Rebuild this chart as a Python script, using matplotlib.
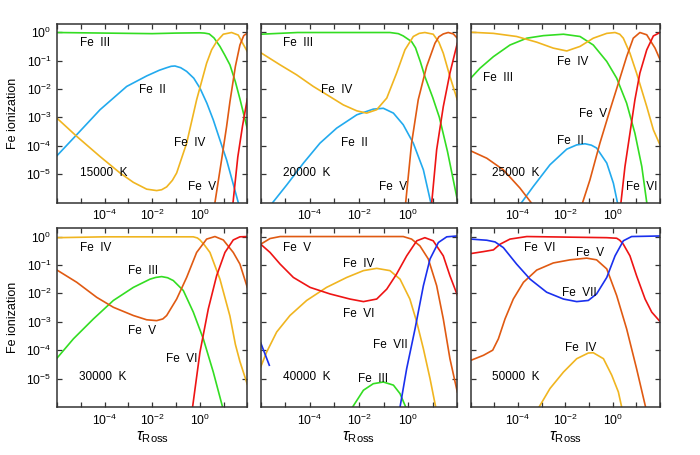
"""Fe ionization fractions vs Rosseland optical depth for six model temperatures."""

import numpy as np
import matplotlib as mpl
import matplotlib.pyplot as plt

nan = np.nan

# curves as (log10 tau_Ross, log10 fraction)
# ---- 15000 K
T15_FE2 = [(-6.0, -4.35), (-5.17, -3.61), (-4.19, -2.73), (-3.07, -1.91), (-2.23, -1.54),
           (-1.7, -1.34), (-1.39, -1.25), (-1.2, -1.2), (-1.04, -1.19), (-0.8, -1.25),
           (-0.55, -1.38), (-0.25, -1.62), (0.01, -1.97), (0.3, -2.5), (0.57, -3.09),
           (0.85, -3.8), (1.13, -4.5), (1.62, -6.0)]
T15_FE3 = [(-6.0, -0.01), (-4.0, -0.03), (-2.0, -0.05), (-1.0, -0.03), (0.0, -0.02),
           (0.2, -0.03), (0.4, -0.06), (0.6, -0.2), (0.85, -0.5), (1.05, -0.8),
           (1.27, -1.15), (1.5, -1.75), (1.69, -2.35), (2.0, -3.4)]
T15_FE4 = [(-6.0, -3.03), (-5.17, -3.67), (-4.19, -4.38), (-3.35, -4.96), (-2.79, -5.29),
           (-2.23, -5.53), (-1.81, -5.58), (-1.6, -5.55), (-1.39, -5.45), (-1.15, -5.22),
           (-0.97, -4.96), (-0.55, -3.91), (-0.13, -2.38), (0.29, -1.09), (0.5, -0.62),
           (0.71, -0.33), (0.99, -0.07), (1.34, -0.01), (1.62, -0.1), (1.8, -0.38),
           (2.0, -0.68)]
T15_FE5 = [(0.64, -6.0), (0.9, -4.6), (1.13, -3.32), (1.27, -2.45), (1.5, -1.2),
           (1.69, -0.45), (1.85, -0.12), (2.0, -0.03)]
T15_FE6 = [(1.4, -6.0), (1.6, -4.4), (1.8, -3.3), (2.0, -2.35)]

# ---- 20000 K
T20_FE2 = [(-5.51, -6.0), (-4.94, -5.38), (-4.26, -4.61), (-3.59, -3.91), (-2.91, -3.38),
           (-2.09, -2.91), (-1.42, -2.71), (-1.01, -2.68), (-0.6, -2.85), (-0.2, -3.26),
           (0.21, -3.91), (0.62, -4.85), (0.92, -6.0)]
T20_FE3 = [(-6.0, -0.07), (-4.5, -0.01), (-2.0, -0.01), (-0.74, -0.01), (-0.4, -0.05),
           (-0.2, -0.13), (0.14, -0.33), (0.3, -0.55), (0.5, -1.05), (0.68, -1.56),
           (1.0, -2.3), (1.27, -3.0), (1.6, -4.2), (2.0, -5.9)]
T20_FE4 = [(-6.0, -0.72), (-5.21, -1.15), (-4.54, -1.5), (-3.86, -1.91), (-3.18, -2.27),
           (-2.64, -2.56), (-2.09, -2.77), (-1.69, -2.85), (-1.28, -2.73), (-0.87, -2.32),
           (-0.47, -1.44), (-0.13, -0.62), (0.21, -0.15), (0.45, -0.04), (0.68, -0.01),
           (1.02, -0.07), (1.25, -0.35), (1.43, -0.74), (1.7, -1.56), (2.0, -2.38)]
T20_FE5 = [(-0.1, -6.0), (0.14, -3.91), (0.41, -2.38), (0.75, -1.21), (1.09, -0.39),
           (1.25, -0.16), (1.43, -0.06), (1.63, -0.01), (1.84, -0.06), (2.0, -0.21)]
T20_FE6 = [(0.96, -6.0), (1.16, -4.14), (1.43, -2.62), (1.7, -1.44), (2.0, -0.39)]

# ---- 25000 K
T25_FE2 = [(-3.85, -6.0), (-3.35, -5.43), (-2.65, -4.67), (-1.94, -4.12), (-1.52, -3.97),
           (-1.17, -3.93), (-0.9, -3.98), (-0.68, -4.08), (-0.25, -4.61), (0.03, -5.32),
           (0.2, -6.0)]
T25_FE3 = [(-6.0, -1.62), (-5.61, -1.27), (-5.04, -0.86), (-4.34, -0.45), (-3.63, -0.21),
           (-2.93, -0.12), (-2.08, -0.07), (-1.38, -0.15), (-0.82, -0.45), (-0.25, -1.03),
           (0.17, -1.62), (0.59, -2.5), (0.94, -3.56), (1.23, -4.73), (1.44, -6.0)]
T25_FE4 = [(-6.0, 0.0), (-5.04, -0.04), (-4.06, -0.15), (-3.21, -0.35), (-2.51, -0.56),
           (-1.94, -0.66), (-1.38, -0.5), (-0.82, -0.21), (-0.25, -0.04), (0.1, -0.01),
           (0.3, -0.07), (0.45, -0.21), (0.73, -0.74), (1.01, -1.44), (1.44, -2.62),
           (1.72, -3.44), (2.0, -3.97)]
T25_FE5 = [(-6.0, -4.18), (-5.32, -4.44), (-4.62, -4.85), (-3.92, -5.49), (-3.45, -6.0),
           (nan, nan),
           (-1.27, -6.0), (-0.96, -5.2), (-0.54, -3.91), (-0.11, -2.73), (0.24, -1.8),
           (0.59, -0.86), (0.87, -0.21), (1.15, -0.01), (1.44, -0.09), (1.79, -0.56),
           (2.0, -0.96)]
T25_FE6 = [(0.35, -6.0), (0.52, -4.73), (0.73, -3.56), (0.94, -2.38), (1.15, -1.44),
           (1.44, -0.62), (1.72, -0.13), (2.0, -0.01)]

# ---- 30000 K
T30_FE3 = [(-6.0, -4.28), (-5.31, -3.6), (-4.47, -2.9), (-3.63, -2.25), (-2.79, -1.79),
           (-2.09, -1.5), (-1.85, -1.44), (-1.6, -1.41), (-1.35, -1.45), (-1.11, -1.55),
           (-0.69, -1.9), (-0.27, -2.66), (0.15, -3.6), (0.57, -4.77), (0.96, -6.0)]
T30_FE4 = [(-6.0, -0.04), (-4.0, -0.01), (-2.0, -0.01), (-0.27, -0.01), (-0.1, -0.05),
           (0.01, -0.12), (0.2, -0.3), (0.43, -0.56), (0.85, -1.5), (1.27, -2.8),
           (1.5, -3.8), (1.69, -4.4), (2.0, -5.2)]
T30_FE5 = [(-6.0, -1.18), (-5.17, -1.61), (-4.33, -2.14), (-3.63, -2.49), (-2.79, -2.78),
           (-2.23, -2.93), (-1.81, -2.96), (-1.55, -2.9), (-1.39, -2.78), (-0.97, -2.2),
           (-0.55, -1.44), (-0.13, -0.56), (0.29, -0.09), (0.64, 0.0), (0.99, -0.12),
           (1.41, -0.56), (1.69, -0.97), (2.0, -1.79)]
T30_FE6 = [(-0.3, -6.0), (0.01, -4.07), (0.36, -2.55), (0.71, -1.38), (1.06, -0.56),
           (1.41, -0.12), (1.69, -0.01), (2.0, 0.0)]

# ---- 40000 K
T40_FE3 = [(-2.26, -6.0), (-1.82, -5.41), (-1.42, -5.18), (-1.01, -5.12), (-0.6, -5.23),
           (-0.33, -5.53), (-0.1, -6.0)]
T40_FE4 = [(-6.0, -4.59), (-5.76, -4.07), (-5.35, -3.36), (-4.81, -2.78), (-4.13, -2.25),
           (-3.32, -1.79), (-2.5, -1.44), (-1.82, -1.2), (-1.28, -1.12), (-0.74, -1.2),
           (-0.33, -1.5), (0.07, -2.2), (0.35, -3.01), (0.62, -3.95), (0.89, -5.0),
           (1.12, -6.0)]
T40_FE5 = [(-6.0, -0.27), (-5.62, -0.07), (-5.21, 0.0), (-2.0, 0.0), (-0.2, 0.0),
           (0.14, -0.09), (0.48, -0.33), (0.82, -0.79), (1.16, -1.73), (1.43, -2.9),
           (1.7, -4.3), (2.0, -5.47)]
T40_FE6 = [(-6.0, -0.27), (-5.62, -0.56), (-5.21, -0.97), (-4.67, -1.44), (-3.99, -1.79),
           (-3.18, -2.02), (-2.37, -2.2), (-1.82, -2.29), (-1.28, -2.2), (-0.87, -1.85),
           (-0.47, -1.32), (-0.06, -0.68), (0.35, -0.15), (0.68, -0.04), (1.02, -0.15),
           (1.43, -0.68), (1.7, -1.38), (2.0, -2.06)]
T40_FE7 = [(-6.0, -3.74), (-5.65, -4.53),
           (nan, nan),
           (-0.33, -6.0), (-0.06, -4.65), (0.28, -3.25), (0.62, -1.73), (0.89, -0.79),
           (1.23, -0.21), (1.57, -0.01), (2.0, 0.02)]

# ---- 50000 K
T50_FE4 = [(-3.11, -6.0), (-2.65, -5.35), (-2.08, -4.77), (-1.52, -4.3), (-1.03, -4.1),
           (-0.82, -4.09), (-0.39, -4.3), (-0.04, -4.88), (0.24, -5.47), (0.38, -6.0)]
T50_FE5 = [(-6.0, -4.36), (-5.46, -4.18), (-5.07, -4.0), (-4.83, -3.6), (-4.55, -2.9),
           (-4.2, -2.2), (-3.77, -1.61), (-3.21, -1.18), (-2.51, -0.93), (-1.8, -0.82),
           (-1.1, -0.76), (-0.68, -0.82), (-0.25, -1.14), (0.17, -2.08), (0.59, -3.25),
           (1.01, -4.65), (1.39, -6.0)]
T50_FE6 = [(-6.0, -0.6), (-5.46, -0.53), (-5.04, -0.47), (-4.76, -0.27), (-4.34, -0.09),
           (-3.63, 0.0), (-0.25, -0.04), (0.17, -0.06), (0.3, -0.13), (0.45, -0.27),
           (0.73, -0.68), (1.01, -1.38), (1.37, -2.2), (1.65, -2.66), (2.0, -2.99)]
T50_FE7 = [(-6.0, -0.09), (-5.32, -0.13), (-4.97, -0.19), (-4.62, -0.39), (-4.06, -0.97),
           (-3.49, -1.5), (-2.79, -1.96), (-2.08, -2.2), (-1.52, -2.29), (-1.03, -2.25),
           (-0.68, -2.02), (-0.25, -1.44), (0.1, -0.68), (0.45, -0.15), (0.8, 0.0),
           (2.0, 0.02)]

ION_COLORS = {
    "Fe II": "#22aaee",
    "Fe III": "#33dd22",
    "Fe IV": "#f0b520",
    "Fe V": "#e05a12",
    "Fe VI": "#ee1414",
    "Fe VII": "#1a30ee",
}

PANELS = [
    ({"Fe II": T15_FE2, "Fe III": T15_FE3, "Fe IV": T15_FE4, "Fe V": T15_FE5, "Fe VI": T15_FE6},
     [("Fe  III", 0.121, 0.892), ("Fe  II", 0.432, 0.630), ("Fe  IV", 0.617, 0.336),
      ("Fe  V", 0.691, 0.088), ("15000  K", 0.121, 0.168)]),
    ({"Fe II": T20_FE2, "Fe III": T20_FE3, "Fe IV": T20_FE4, "Fe V": T20_FE5, "Fe VI": T20_FE6},
     [("Fe  III", 0.115, 0.892), ("Fe  IV", 0.305, 0.630), ("Fe  II", 0.407, 0.331),
      ("Fe  V", 0.602, 0.089), ("20000  K", 0.112, 0.163)]),
    ({"Fe II": T25_FE2, "Fe III": T25_FE3, "Fe IV": T25_FE4, "Fe V": T25_FE5, "Fe VI": T25_FE6},
     [("Fe  III", 0.067, 0.699), ("Fe  IV", 0.458, 0.789), ("Fe  V", 0.572, 0.494),
      ("Fe  II", 0.458, 0.346), ("Fe  VI", 0.819, 0.089), ("25000  K", 0.111, 0.163)]),
    ({"Fe III": T30_FE3, "Fe IV": T30_FE4, "Fe V": T30_FE5, "Fe VI": T30_FE6},
     [("Fe  IV", 0.121, 0.888), ("Fe  III", 0.372, 0.763), ("Fe  V", 0.372, 0.425),
      ("Fe  VI", 0.574, 0.267), ("30000  K", 0.116, 0.166)]),
    ({"Fe III": T40_FE3, "Fe IV": T40_FE4, "Fe V": T40_FE5, "Fe VI": T40_FE6, "Fe VII": T40_FE7},
     [("Fe  V", 0.115, 0.888), ("Fe  IV", 0.420, 0.799), ("Fe  VI", 0.417, 0.519),
      ("Fe  VII", 0.573, 0.345), ("Fe  III", 0.497, 0.155), ("40000  K", 0.112, 0.166)]),
    ({"Fe IV": T50_FE4, "Fe V": T50_FE5, "Fe VI": T50_FE6, "Fe VII": T50_FE7},
     [("Fe  VI", 0.282, 0.888), ("Fe  V", 0.556, 0.860), ("Fe  VII", 0.481, 0.640),
      ("Fe  IV", 0.498, 0.332), ("50000  K", 0.111, 0.166)]),
]

mpl.rcParams.update({
    "font.family": "Liberation Sans",
    "mathtext.fontset": "custom",
    "mathtext.rm": "Liberation Sans",
    "mathtext.it": "Liberation Sans:italic",
    "mathtext.sf": "Liberation Sans",
    "font.size": 8.5,
    "xtick.labelsize": 8.7,
    "ytick.labelsize": 8.7,
})

W, H = 700, 455
fig = plt.figure(figsize=(7.0, 4.55), dpi=100)

# axes boxes in pixels: (left, right) per column, (top, bottom) per row
col_px = [(57, 247.3), (260.7, 457.3), (470.7, 660)]
row_px = [(24, 202.5), (228.3, 407)]

for idx, (curves, labels) in enumerate(PANELS):
    r, c = divmod(idx, 3)
    x0, x1 = col_px[c]
    y0, y1 = row_px[r]
    ax = fig.add_axes([x0 / W, 1 - y1 / H, (x1 - x0) / W, (y1 - y0) / H])
    for ion, pts in curves.items():
        arr = np.array(pts, dtype=float)
        ax.plot(10 ** arr[:, 0], 10 ** arr[:, 1], color=ION_COLORS[ion], lw=1.2)
    ax.set_xscale("log")
    ax.set_yscale("log")
    ax.set_xlim(1e-6, 1e2)
    ax.set_ylim(1e-6, 1.95)
    ax.set_xticks([10.0 ** k for k in range(-6, 3)])
    ax.set_xticklabels(["", "", r"$10^{-4}$", "", r"$10^{-2}$", "", r"$10^{0}$", "", ""])
    ax.set_yticks([10.0 ** k for k in range(-5, 1)])
    if c == 0:
        ax.set_yticklabels([r"$10^{%d}$" % k if k else r"$10^{0}$" for k in range(-5, 1)])
        ax.set_ylabel("Fe ionization", fontsize=9, labelpad=5)
    else:
        ax.set_yticklabels([])
    ax.minorticks_off()
    ax.tick_params(which="both", direction="in", length=3.5, width=0.9,
                   top=True, right=True, pad=4, color="#333333")
    for sp in ax.spines.values():
        sp.set_linewidth(1.1)
        sp.set_color("#333333")
    if r == 1:
        ax.set_xlabel(r"$\tau_{\mathrm{Ross}}$", fontsize=11.5, labelpad=1)
    for text, tx, ty in labels:
        ax.text(tx, ty, text, transform=ax.transAxes, ha="left", va="center")

fig.savefig("out.png", dpi=100)
